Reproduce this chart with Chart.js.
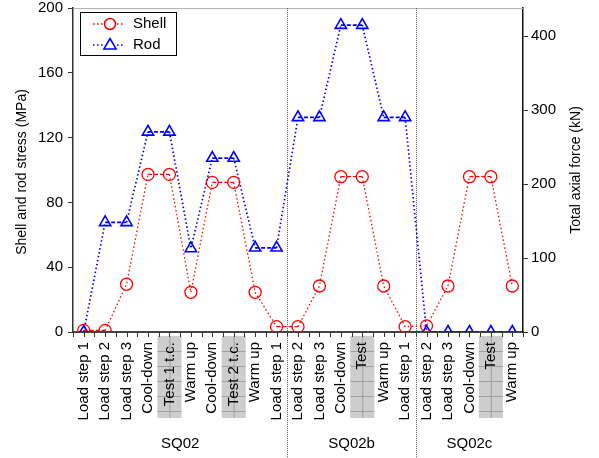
<!DOCTYPE html>
<html>
<head>
<meta charset="utf-8">
<script src="https://cdn.jsdelivr.net/npm/chart.js@4"></script>
<style>
  html, body { margin: 0; padding: 0; background: #fff; }
  #wrap { width: 599px; height: 458px; }
</style>
</head>
<body>
<div id="wrap"><canvas id="stress"></canvas></div>
<script>
const categories = ["Load step 1", "Load step 2", "Load step 3", "Cool-down", "Test 1 t.c.", "Warm up",
  "Cool-down", "Test 2 t.c.", "Warm up", "Load step 1",
  "Load step 2", "Load step 3", "Cool-down", "Test", "Warm up", "Load step 1",
  "Load step 2", "Load step 3", "Cool-down", "Test", "Warm up"];
const groups = ["SQ02", "SQ02b", "SQ02c"];
const groupStarts = [0, 10, 16];
const testSteps = [4, 7, 13, 19];
const shellStress = [1, 1, 29.5, 97.3, 97.3, 24.5, 92.4, 92.4, 24.5, 3.3,
  3.3, 28.4, 95.9, 95.9, 28.4, 3.3,
  3.8, 28.4, 95.9, 95.9, 28.4];
const rodStress = [0, 67.7, 67.7, 123.6, 123.6, 51.6, 107.4, 107.4, 52, 52,
  132.5, 132.5, 189.5, 189.5, 132.5, 132.5,
  0, 0, 0, 0, 0];
const stressTicks = [0, 40, 80, 120, 160, 200];
const forceTicks = [0, 100, 200, 300, 400];
const forceMax = 437.8;

const font = "'Liberation Sans', Arial, sans-serif";
const chartCanvas = document.getElementById("stress");

// dotted between steps, dashed where the value is held
function segDash(ctx) {
  return ctx.p0.parsed.y === ctx.p1.parsed.y ? [4, 2] : [1.5, 2.5];
}

function drawTriangle(c, x, y, r) {
  c.beginPath();
  c.moveTo(x, y - r);
  c.lineTo(x + r * 0.95, y + r * 0.62);
  c.lineTo(x - r * 0.95, y + r * 0.62);
  c.closePath();
  c.stroke();
}

function fitSide(width) {
  return s => {
    s.width = width;
    s.paddingTop = 0;
    s.paddingBottom = 0;
  };
}

const decorations = {
  id: "decorations",
  beforeDraw(chart) {
    const c = chart.ctx;
    const x = chart.scales.x;
    const area = chart.chartArea;
    // grey boxes behind the test labels
    c.save();
    testSteps.forEach(i => {
      const cx = x.getPixelForValue(i);
      const left = cx - 12, top = area.bottom + 4, w = 24, h = 82;
      c.fillStyle = "#cdcdcd";
      c.fillRect(left, top, w, h);
      c.strokeStyle = "#a0a0a0";
      c.lineWidth = 1;
      c.beginPath();
      c.moveTo(cx + 0.5, top);
      c.lineTo(cx + 0.5, top + h);
      for (let yy = top + 15; yy < top + h; yy += 15) {
        c.moveTo(left, Math.round(yy) + 0.5);
        c.lineTo(left + w, Math.round(yy) + 0.5);
      }
      c.stroke();
    });
    c.restore();
  },
  afterDraw(chart) {
    const c = chart.ctx;
    const x = chart.scales.x;
    const area = chart.chartArea;
    const step = x.getPixelForValue(1) - x.getPixelForValue(0);
    c.save();
    // top border
    c.strokeStyle = "#b0b0b0";
    c.lineWidth = 1;
    c.beginPath();
    c.moveTo(area.left, area.top + 0.5);
    c.lineTo(area.right, area.top + 0.5);
    c.stroke();
    // half-step ticks under the axis
    c.strokeStyle = "#333";
    c.beginPath();
    for (let k = 0; k <= categories.length * 2; k++) {
      const px = Math.round(area.left + k * step / 2) + 0.5;
      c.moveTo(px, area.bottom);
      c.lineTo(px, area.bottom + 5);
    }
    c.stroke();
    // group dividers
    c.strokeStyle = "#555";
    c.setLineDash([1, 1]);
    groupStarts.slice(1).forEach(i => {
      const px = Math.round(x.getPixelForValue(i) - step / 2) + 0.5;
      c.beginPath();
      c.moveTo(px, area.top);
      c.lineTo(px, chart.height);
      c.stroke();
    });
    c.setLineDash([]);
    // group names
    c.fillStyle = "#000";
    c.font = "15px " + font;
    c.textAlign = "center";
    c.textBaseline = "middle";
    groups.forEach((g, n) => {
      const first = groupStarts[n];
      const last = n + 1 < groupStarts.length ? groupStarts[n + 1] - 1 : categories.length - 1;
      const mid = (x.getPixelForValue(first) + x.getPixelForValue(last)) / 2;
      c.fillText(g, mid, 444);
    });
    // axis titles
    c.font = "14px " + font;
    c.save();
    c.translate(22, 172);
    c.rotate(-Math.PI / 2);
    c.fillText("Shell and rod stress (MPa)", 0, 0);
    c.restore();
    c.save();
    c.translate(576, 170);
    c.rotate(-Math.PI / 2);
    c.fillText("Total axial force (kN)", 0, 0);
    c.restore();
    // legend
    c.font = "15px " + font;
    c.fillStyle = "#fff";
    c.fillRect(80, 12, 96, 43);
    c.strokeStyle = "#000";
    c.lineWidth = 1;
    c.strokeRect(80.5, 12.5, 96, 43);
    c.textAlign = "left";
    c.fillStyle = "#000";
    c.fillText("Shell", 133, 24);
    c.fillText("Rod", 133, 45);
    c.lineWidth = 1.5;
    c.setLineDash([1.5, 2.5]);
    c.strokeStyle = "#ff0000";
    c.beginPath(); c.moveTo(93, 24); c.lineTo(125, 24); c.stroke();
    c.strokeStyle = "#0000ff";
    c.beginPath(); c.moveTo(93, 45); c.lineTo(125, 45); c.stroke();
    c.setLineDash([]);
    c.fillStyle = "#fff";
    c.strokeStyle = "#ff0000";
    c.beginPath(); c.arc(110, 24, 5.5, 0, Math.PI * 2); c.fill(); c.stroke();
    c.fillRect(104, 39, 12, 10);
    c.strokeStyle = "#0000ff";
    drawTriangle(c, 110, 45, 6.5);
    c.restore();
  }
};

new Chart(chartCanvas, {
  type: "line",
  data: {
    labels: categories,
    datasets: [{
      label: "Shell",
      data: shellStress,
      yAxisID: "y",
      borderColor: "#ff0000",
      borderWidth: 1.3,
      pointStyle: "circle",
      pointRadius: 6,
      pointBorderWidth: 1.3,
      pointBackgroundColor: "rgba(0,0,0,0)",
      pointBorderColor: "#ff0000",
      segment: { borderDash: segDash },
      tension: 0
    }, {
      label: "Rod",
      data: rodStress,
      yAxisID: "y",
      borderColor: "#0000ff",
      borderWidth: 1.7,
      pointStyle: "triangle",
      pointRadius: 6.5,
      pointBorderWidth: 1.6,
      pointBackgroundColor: "rgba(0,0,0,0)",
      pointBorderColor: "#0000ff",
      segment: { borderDash: segDash },
      tension: 0
    }]
  },
  options: {
    responsive: true,
    maintainAspectRatio: false,
    animation: false,
    layout: { padding: { top: 8, left: 0, right: 0, bottom: 0 } },
    plugins: {
      legend: { display: false },
      tooltip: { enabled: false }
    },
    scales: {
      x: {
        offset: true,
        afterFit: s => { s.height = 126; s.paddingLeft = 0; s.paddingRight = 0; },
        grid: { display: false },
        border: { color: "#444", width: 2 },
        ticks: {
          autoSkip: false,
          minRotation: 90,
          maxRotation: 90,
          padding: 2,
          color: "#000",
          font: { family: font, size: 15 }
        }
      },
      y: {
        position: "left",
        min: 0,
        max: 200,
        afterFit: fitSide(73),
        afterBuildTicks: s => { s.ticks = stressTicks.map(v => ({ value: v })); },
        grid: { drawOnChartArea: false, tickLength: 5, color: "#333" },
        border: { color: "#333", width: 1.5 },
        ticks: { color: "#000", padding: 5, font: { family: font, size: 15 } }
      },
      y2: {
        position: "right",
        min: 0,
        max: forceMax,
        afterFit: fitSide(76),
        afterBuildTicks: s => { s.ticks = forceTicks.map(v => ({ value: v })); },
        grid: { drawOnChartArea: false, tickLength: 5, color: "#333" },
        border: { color: "#111", width: 1.5 },
        ticks: { color: "#000", padding: 3, font: { family: font, size: 15 } }
      }
    }
  },
  plugins: [decorations]
});
</script>
</body>
</html>
